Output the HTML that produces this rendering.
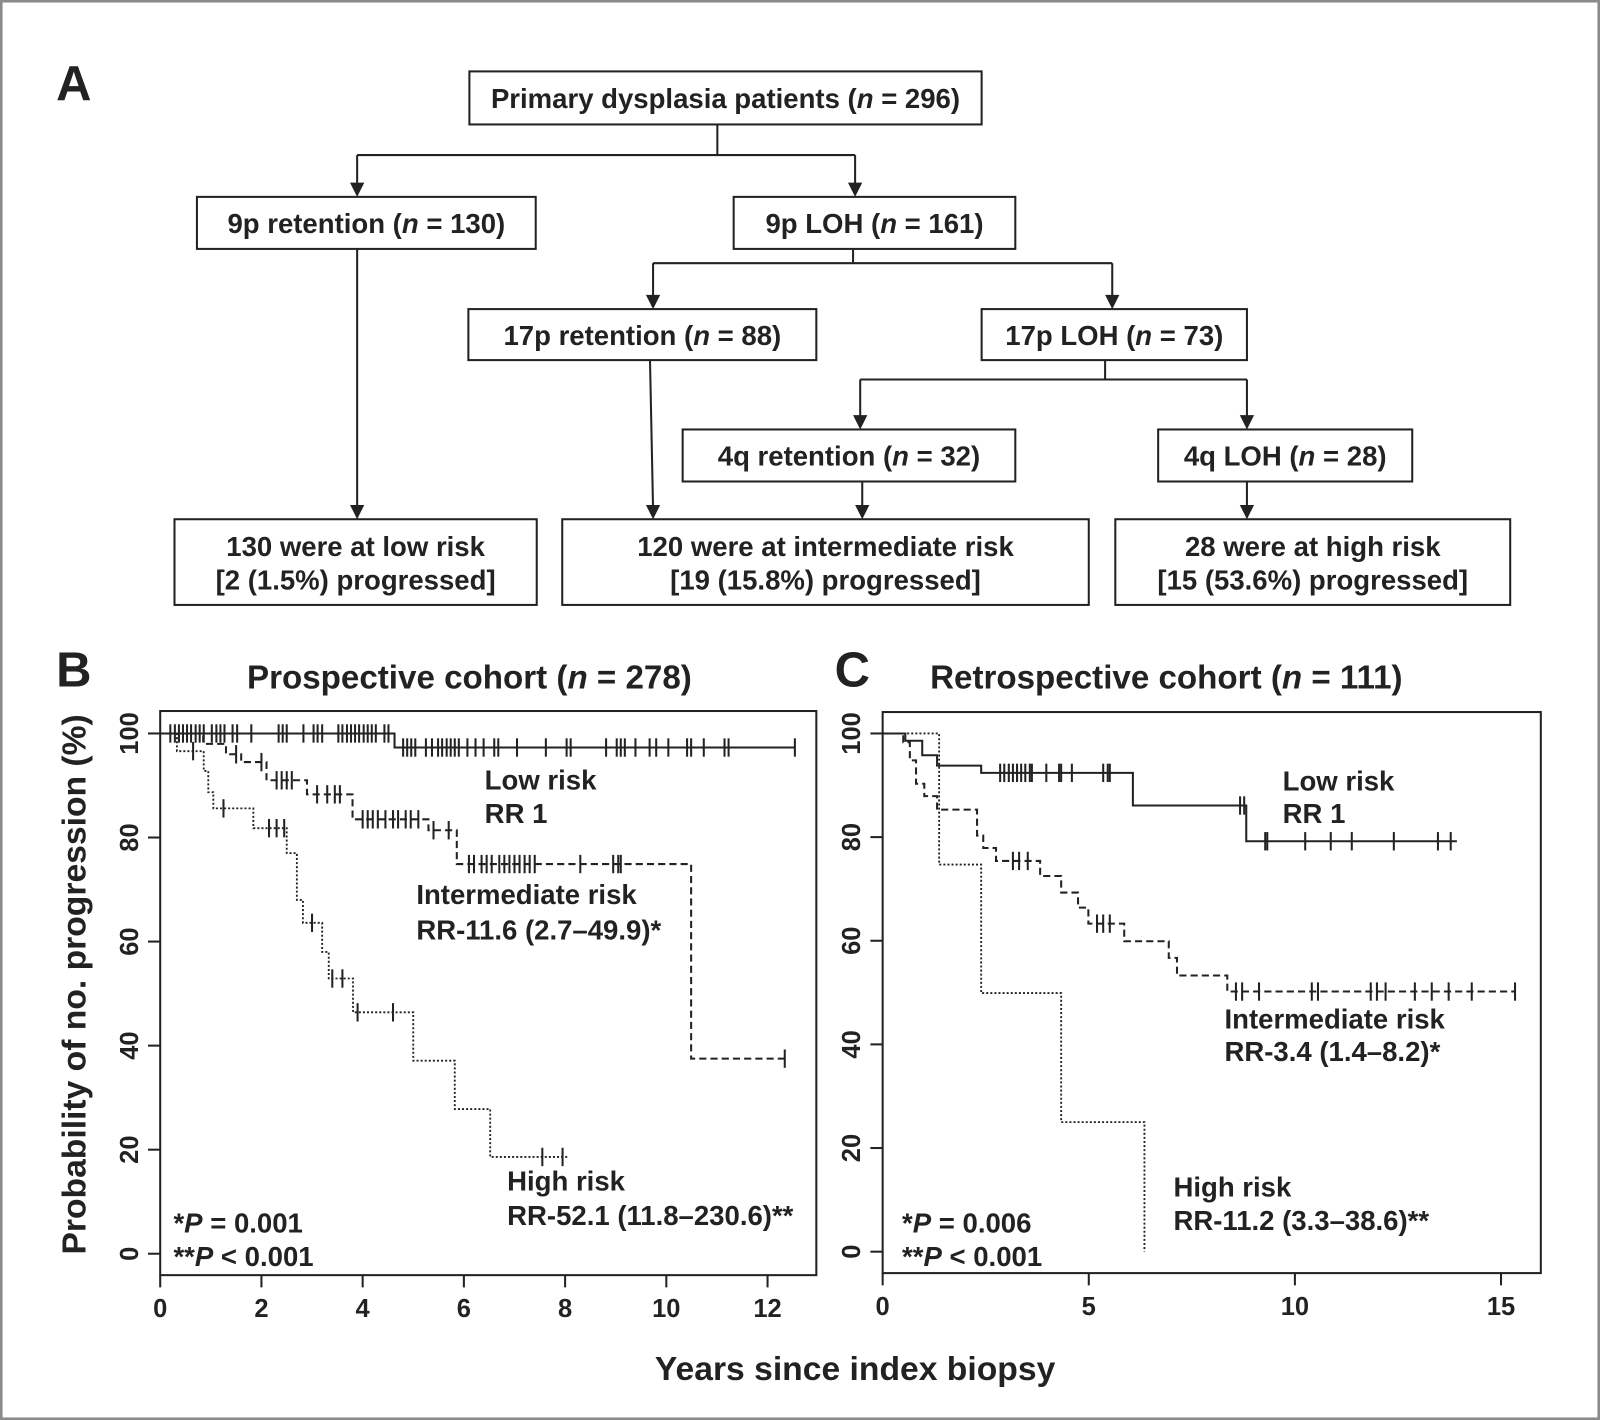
<!DOCTYPE html>
<html><head><meta charset="utf-8"><style>
html,body{margin:0;padding:0;background:#fff}
svg{display:block}
text{font-family:"Liberation Sans",Arial,sans-serif;fill:#222;font-weight:bold}
</style></head><body>
<svg id="fig" width="1600" height="1420" viewBox="0 0 1568 1392" preserveAspectRatio="none" xmlns="http://www.w3.org/2000/svg">
<rect x="1" y="1" width="1566" height="1390" fill="#fff" stroke="#8a8a8a" stroke-width="3"/>
<g id="flow"></g>
<g id="plots"></g>
</svg>
<script>
// ---------- Panel B data (years, % no progression) ----------
const bLowSteps = [[0,100],[4.63,97.3]];
const bLowEnd = 12.54;
const bLowCensor = [0.2,0.29,0.37,0.45,0.53,0.61,0.7,0.78,0.86,1.02,1.11,1.19,1.27,1.43,1.52,1.8,2.34,2.42,2.5,2.83,3.03,3.11,3.2,3.52,3.6,3.69,3.77,3.85,3.93,4.02,4.1,4.18,4.26,4.43,4.51,4.8,4.88,4.96,5.04,5.25,5.37,5.49,5.57,5.66,5.74,5.82,5.9,6.07,6.23,6.39,6.6,6.68,7.05,7.62,8.03,8.11,8.81,9.02,9.1,9.18,9.39,9.67,9.8,10.04,10.41,10.49,10.74,11.15,11.23,12.54];
const bIntSteps = [[0,100],[0.85,98],[1.3,96],[1.6,94.5],[2.1,91],[2.9,88.3],[3.8,83.5],[5.3,81.4],[5.86,74.9],[10.49,37.5]];
const bIntEnd = 12.34;
const bIntCensor = [1.5,2.0,2.3,2.4,2.5,2.6,3.1,3.3,3.45,3.55,4.0,4.1,4.2,4.3,4.45,4.6,4.7,4.85,4.95,5.1,5.4,5.7,6.1,6.2,6.35,6.45,6.55,6.7,6.8,6.9,7.0,7.1,7.2,7.3,7.4,8.3,8.95,9.05,9.1,12.34];
const bHighSteps = [[0,100],[0.33,96.6],[0.86,92.8],[0.95,88.7],[1.05,85.6],[1.84,81.8],[2.5,77],[2.7,68],[2.82,63.6],[3.2,58],[3.33,52.9],[3.81,46.4],[5.0,37.1],[5.82,27.8],[6.52,18.6]];
const bHighEnd = 8.07;
const bHighCensor = [0.65,1.25,2.15,2.3,2.45,3.0,3.4,3.6,3.9,4.6,7.55,7.95];
const bXTicks = [0,2,4,6,8,10,12];
const yTicks = [0,20,40,60,80,100];
// ---------- Panel C data ----------
const cLowSteps = [[0,100],[0.55,98.6],[0.96,95.8],[1.32,93.8],[2.39,92.4],[6.07,86.1],[8.82,79.2]];
const cLowEnd = 13.93;
const cLowCensor = [2.85,2.95,3.06,3.16,3.26,3.36,3.46,3.57,3.62,3.97,4.28,4.33,4.59,5.35,5.46,5.51,8.67,8.77,9.28,9.33,10.25,10.87,11.38,12.4,13.47,13.78];
const cIntSteps = [[0,100],[0.5,98.3],[0.66,94.8],[0.81,90.3],[1.01,87.9],[1.32,85.3],[2.29,80.3],[2.44,77.9],[2.75,75.4],[3.82,72.5],[4.33,69.3],[4.74,66.4],[4.99,63.3],[5.86,59.9],[6.94,56.7],[7.14,53.3],[8.36,50.2]];
const cIntEnd = 15.34;
const cIntCensor = [3.16,3.31,3.52,5.2,5.35,5.51,8.57,8.72,9.13,10.41,10.56,11.84,11.99,12.2,12.91,13.32,13.73,14.29,15.34];
const cHighSteps = [[0,100],[1.37,74.7],[2.39,49.9],[4.33,25],[6.35,0]];
const cHighEnd = 6.35;
const cHighCensor = [];
const cXTicks = [0,5,10,15];

const NS="http://www.w3.org/2000/svg";
function mk(tag,attrs,parent){const e=document.createElementNS(NS,tag);for(const k in attrs)e.setAttribute(k,attrs[k]);parent.appendChild(e);return e;}
function txt(parent,x,y,s,size,anchor,name){const t=mk('text',{x:x,y:y,'font-size':size,'text-anchor':anchor||'start'},parent);t.innerHTML=s;


return t;}

// ---------- Flowchart ----------
const flow=document.getElementById('flow');
function box(x1,y1,x2,y2,lines,name){
  const g=mk('g',{},flow);
  
  
  mk('rect',{x:x1,y:y1,width:x2-x1,height:y2-y1,fill:'#fff',stroke:'#222','stroke-width':2},g);
  const cx=(x1+x2)/2;
  if(lines.length===1) txt(g,cx,(y1+y2)/2+10,lines[0],27,'middle',name+'-label');
  else {txt(g,cx,y1+36,lines[0],27,'middle',name+'-line1');txt(g,cx,y1+69,lines[1],27,'middle',name+'-line2');}
}
function line(pts,name){const p=mk('polyline',{points:pts.map(a=>a.join(',')).join(' '),fill:'none',stroke:'#222','stroke-width':2},flow);

}
function arrow(x1,y1,x2,y2,name){
  line([[x1,y1],[x2,y2-10]],name);
  const a=mk('polygon',{points:`${x2-7},${y2-14} ${x2+7},${y2-14} ${x2},${y2}`,fill:'#222'},flow);
  
  
}
const ni='<tspan font-style="italic">n</tspan>';
box(460,70,962,122,[`Primary dysplasia patients (${ni} = 296)`],'root-box');
box(193,193,525,244,[`9p retention (${ni} = 130)`],'9p-retention-box');
box(719,193,995,244,[`9p LOH (${ni} = 161)`],'9p-loh-box');
box(459,303,800,353,[`17p retention (${ni} = 88)`],'17p-retention-box');
box(962,303,1222,353,[`17p LOH (${ni} = 73)`],'17p-loh-box');
box(669,421,995,472,[`4q retention (${ni} = 32)`],'4q-retention-box');
box(1135,421,1384,472,[`4q LOH (${ni} = 28)`],'4q-loh-box');
box(171,509,526,593,['130 were at low risk','[2 (1.5%) progressed]'],'low-risk-box');
box(551,509,1067,593,['120 were at intermediate risk','[19 (15.8%) progressed]'],'intermediate-risk-box');
box(1093,509,1480,593,['28 were at high risk','[15 (53.6%) progressed]'],'high-risk-box');
line([[703,122],[703,152]],'root-stem');line([[350,152],[838,152]],'root-branch');
arrow(350,152,350,193,'arrow-9p-ret');arrow(838,152,838,193,'arrow-9p-loh');
line([[836,244],[836,258]],'9p-stem');line([[640,258],[1090,258]],'9p-branch');
arrow(640,258,640,303,'arrow-17p-ret');arrow(1090,258,1090,303,'arrow-17p-loh');
line([[1083,353],[1083,372]],'17p-stem');line([[843,372],[1222,372]],'17p-branch');
arrow(843,372,843,421,'arrow-4q-ret');arrow(1222,372,1222,421,'arrow-4q-loh');
arrow(350,244,350,509,'arrow-low');arrow(637,353,640,509,'arrow-int-17p');
arrow(845,472,845,509,'arrow-int-4q');arrow(1222,472,1222,509,'arrow-high');
txt(document.getElementById('fig'),55,98,'A',48,'start','panel-a-letter');

// ---------- KM plots ----------
const plots=document.getElementById('plots');
function panel(o){
  const g=mk('g',{},plots);
  
  
  const X=t=>o.x0+t*o.px, Y=p=>o.y0+(100-p)*o.py;
  const fr=mk('rect',{x:o.bx1,y:o.by1,width:o.bx2-o.bx1,height:o.by2-o.by1,fill:'none',stroke:'#222','stroke-width':2},g);
  
  
  o.xt.forEach(v=>{const l=mk('line',{x1:X(v),x2:X(v),y1:o.by2,y2:o.by2+12,stroke:'#222','stroke-width':2},g);
    
    
    txt(g,X(v),o.by2+41,String(v),25,'middle','x-tick-label');});
  yTicks.forEach(v=>{const l=mk('line',{x1:o.bx1-12,x2:o.bx1,y1:Y(v),y2:Y(v),stroke:'#222','stroke-width':2},g);
    
    
    const t=txt(g,0,0,String(v),25,'middle','y-tick-label');t.setAttribute('transform',`translate(${o.bx1-22},${Y(v)}) rotate(-90)`);});
  o.series.forEach(s=>{
    let d='';s.steps.forEach((st,i)=>{if(i===0)d+=`M${X(st[0])},${Y(st[1])}`;else d+=`H${X(st[0])}V${Y(st[1])}`;});
    d+=`H${X(s.end)}`;
    const p=mk('path',{d:d,fill:'none',stroke:'#222','stroke-width':s.dash==='2 2'?1.8:2,'stroke-dasharray':s.dash},g);
    
    
    s.cens.forEach(t=>{let v=s.steps[0][1];s.steps.forEach(st=>{if(st[0]<=t)v=st[1];});
      const c=mk('line',{x1:X(t),x2:X(t),y1:Y(v)-9,y2:Y(v)+9,stroke:'#222','stroke-width':2},g);
      
      });
  });
  o.labels.forEach(l=>txt(g,l[0],l[1],l[2],27,'start',l[3]));
}
panel({name:'panel-b-plot',x0:157,px:49.6,y0:719,py:5.1,bx1:157,bx2:800,by1:697,by2:1250,xt:bXTicks,
 series:[{name:'b-low',steps:bLowSteps,end:bLowEnd,cens:bLowCensor,dash:'none'},
         {name:'b-intermediate',steps:bIntSteps,end:bIntEnd,cens:bIntCensor,dash:'7 4'},
         {name:'b-high',steps:bHighSteps,end:bHighEnd,cens:bHighCensor,dash:'2 2'}],
 labels:[[475,774,'Low risk','b-low-label'],[475,807,'RR 1','b-low-rr'],[408,886,'Intermediate risk','b-int-label'],[408,921,'RR-11.6 (2.7–49.9)*','b-int-rr'],
  [497,1167,'High risk','b-high-label'],[497,1201,'RR-52.1 (11.8–230.6)**','b-high-rr'],
  [170,1208,'*<tspan font-style="italic">P</tspan> = 0.001','b-p1'],[170,1241,'**<tspan font-style="italic">P</tspan> &lt; 0.001','b-p2']]});
panel({name:'panel-c-plot',x0:865,px:40.4,y0:719,py:5.08,bx1:865,bx2:1510,by1:698,by2:1248,xt:cXTicks,
 series:[{name:'c-low',steps:cLowSteps,end:cLowEnd,cens:cLowCensor,dash:'none'},
         {name:'c-intermediate',steps:cIntSteps,end:cIntEnd,cens:cIntCensor,dash:'7 4'},
         {name:'c-high',steps:cHighSteps,end:cHighEnd,cens:cHighCensor,dash:'2 2'}],
 labels:[[1257,775,'Low risk','c-low-label'],[1257,807,'RR 1','c-low-rr'],[1200,1008,'Intermediate risk','c-int-label'],[1200,1040,'RR-3.4 (1.4–8.2)*','c-int-rr'],
  [1150,1173,'High risk','c-high-label'],[1150,1206,'RR-11.2 (3.3–38.6)**','c-high-rr'],
  [884,1208,'*<tspan font-style="italic">P</tspan> = 0.006','c-p1'],[884,1241,'**<tspan font-style="italic">P</tspan> &lt; 0.001','c-p2']]});
const fig=document.getElementById('fig');
txt(fig,55,673,'B',48,'start','panel-b-letter');
txt(fig,818,673,'C',48,'start','panel-c-letter');
txt(fig,460,675,`Prospective cohort (${ni} = 278)`,32.5,'middle','panel-b-title');
txt(fig,1143,675,`Retrospective cohort (${ni} = 111)`,32.5,'middle','panel-c-title');
txt(fig,838,1353,'Years since index biopsy',33,'middle','x-axis-title');
const yt=txt(fig,0,0,'Probability of no. progression (%)',33,'middle','y-axis-title');
yt.setAttribute('transform','translate(84,965) rotate(-90)');
</script>
</body></html>
